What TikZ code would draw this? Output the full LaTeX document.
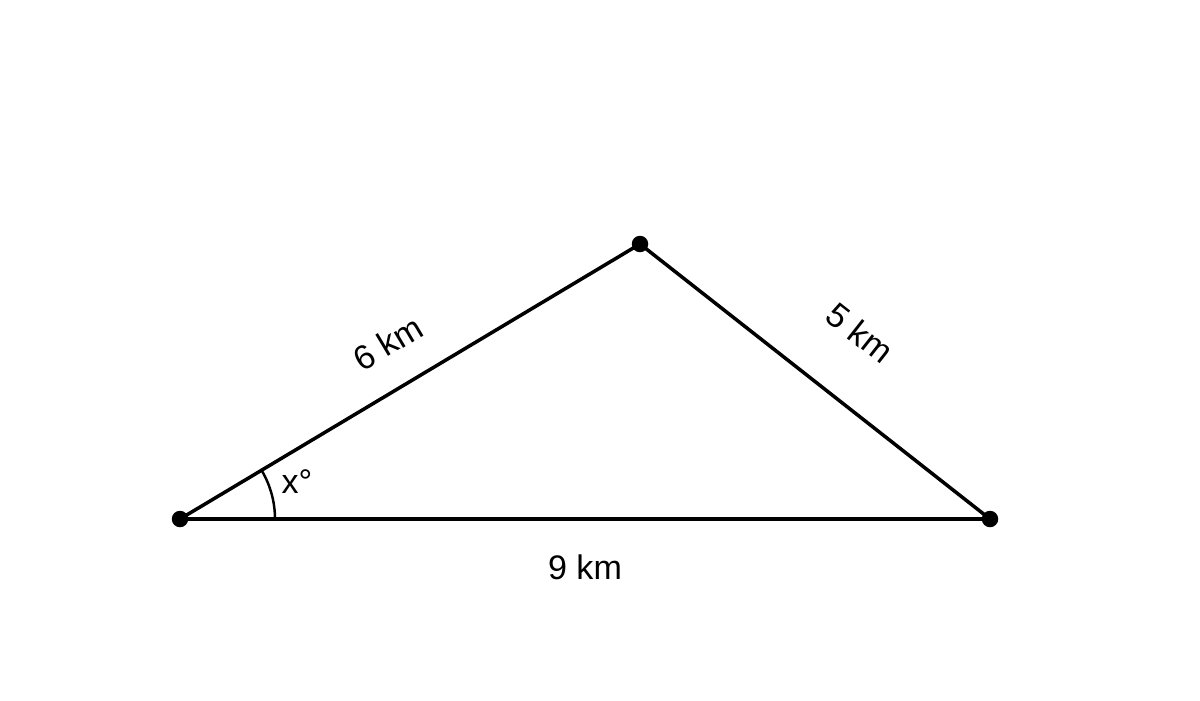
\documentclass[tikz,border=0pt]{standalone}
\usepackage{fontspec}
\setmainfont{Liberation Sans}
\usetikzlibrary{positioning}
\tikzset{corner node/.style={shape=circle,
    fill=black, inner sep=0pt, minimum size=1.65mm},
    side label/.style={font=\fontsize{9.7}{11}\selectfont, inner sep=0pt}}

\begin{document}
\begin{tikzpicture}
    \useasboundingbox (0,0) rectangle (12,7);
    \node[corner node] (1) at (1.80,1.81) {};
    \node[corner node] (2) at (6.40,4.56) {};
    \node[corner node] (3) at (9.90,1.81) {};

%    angle at the left corner
    \draw[line width=0.7pt] (1.center) ++(0.95,0) arc[start angle=0, end angle=30.87, radius=0.95];
    \node[side label] (4) at (2.97,2.18) {x°};

    \node[side label, rotate=30.87] (5) at (3.88,3.57) {6 km};
    \node[side label, rotate=-38.16] (6) at (8.60,3.67) {5 km};
    \node[side label] (7) at (5.85,1.33) {9 km};

    \path[draw,line width=1pt]
    (1.center) edge node {} (2.center)
    (2.center) edge node {} (3.center)
    (1.center) edge node {} (3.center)
    ;
\end{tikzpicture}
\end{document}
